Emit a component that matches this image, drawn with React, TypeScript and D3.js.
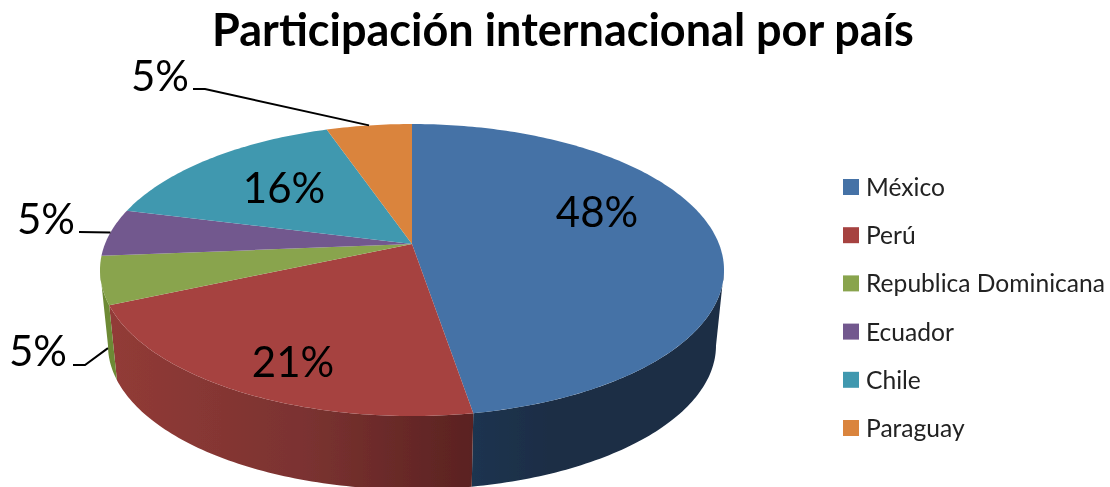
import React from "react";
import * as d3 from "d3";

const paises = ["México", "Perú", "Republica Dominicana", "Ecuador", "Chile", "Paraguay"];
const participantes = [9, 4, 1, 1, 3, 1];
const etiquetas = ["48%", "21%", "5%", "5%", "16%", "5%"];
const coloresTapa = ["#4472a6", "#a64341", "#89a44e", "#72588e", "#4198af", "#da843e"];
const titulo = "Participación internacional por país";

const W = 1110, H = 487;
const CX = 412;
const top = { cy: 270, rx: 312, ry: 146 };
const bottom = { cy: 345.5, rx: 304, ry: 144 };
const C = 26 / 146; // perspective shift of the pie's centre
const FRONT_FROM = Math.PI - Math.acos(C); // right extreme of the rim
const FRONT_TO = Math.PI + Math.acos(C); // left extreme of the rim

function project(theta: number, e: { cy: number; rx: number; ry: number }): [number, number] {
  const u = Math.sin(theta), v = -Math.cos(theta);
  const d = 1 - C * v;
  return [CX + (e.rx * u * Math.sqrt(1 - C * C)) / d, e.cy + (e.ry * (v - C)) / d];
}

const arcs = d3.pie<number>().sort(null).startAngle(0).endAngle(2 * Math.PI)(participantes);
const line = d3.line<[number, number]>();
const color = d3.scaleOrdinal<number, string>().domain(d3.range(6)).range(coloresTapa);
const legendY = d3.scalePoint<string>().domain(paises).range([187, 428]);

function angles(a: number, b: number) {
  const n = Math.max(4, Math.ceil((b - a) * 60));
  return d3.range(n + 1).map((i) => a + ((b - a) * i) / n);
}
const topPath = (a: number, b: number) =>
  line([[CX, top.cy - top.ry * C], ...angles(a, b).map((t) => project(t, top))])! + "Z";
const wallPath = (a0: number, b0: number) => {
  const a = Math.max(a0, FRONT_FROM), b = Math.min(b0, FRONT_TO);
  if (b <= a) return "";
  const t = angles(a, b);
  return line([...t.map((x) => project(x, top)), ...t.slice().reverse().map((x) => project(x, bottom))])! + "Z";
};
const mid = (i: number) => (arcs[i].startAngle + arcs[i].endAngle) / 2;

const insideLabels = [
  { i: 0, x: 597, y: 227 },
  { i: 1, x: 293, y: 377 },
  { i: 4, x: 284, y: 203 },
];
const outside = [
  { i: 5, lx: 160, ly: 91, path: (): [number, number][] => [[193, 89], [205, 89], project(mid(5), top)] },
  { i: 3, lx: 46, ly: 234, path: (): [number, number][] => [[79, 232], project(mid(3), top)] },
  {
    i: 2, lx: 38, ly: 366,
    path: (): [number, number][] => {
      const a = project(mid(2), top), b = project(mid(2), bottom);
      return [[73, 365], [85, 365], [a[0] + (b[0] - a[0]) * 0.9, a[1] + (b[1] - a[1]) * 0.9]];
    },
  },
];
const wallFill = ["url(#wallBlue)", "url(#wallRed)", "#6d8a36", "#54406e", "#2f7488", "#a9652c"];
const font = "Lato, Carlito, sans-serif";

export default function App() {
  return (
    <svg width={W} height={H} viewBox={`0 0 ${W} ${H}`}
      style={{ position: "absolute", left: 0, top: 0, background: "#fff" }}>
      <defs>
        <linearGradient id="wallRed" gradientUnits="userSpaceOnUse" x1={110} x2={473} y1={0} y2={0}>
          <stop offset="0" stopColor="#923b37" />
          <stop offset="0.55" stopColor="#7a3230" />
          <stop offset="1" stopColor="#5a2221" />
        </linearGradient>
        <linearGradient id="wallBlue" gradientUnits="userSpaceOnUse" x1={473} x2={724} y1={0} y2={0}>
          <stop offset="0" stopColor="#1e3450" />
          <stop offset="0.3" stopColor="#1b2d45" />
          <stop offset="1" stopColor="#1b2d45" />
        </linearGradient>
        <filter id="soft" x="-5%" y="-5%" width="110%" height="110%">
          <feGaussianBlur stdDeviation="0.6" />
        </filter>
      </defs>
      <g filter="url(#soft)">
        {arcs.map((a, i) => (
          <path key={i} d={wallPath(a.startAngle, a.endAngle)} fill={wallFill[i]} />
        ))}
        {arcs.map((a, i) => (
          <path key={i} d={topPath(a.startAngle, a.endAngle)} fill={color(i)} />
        ))}
        {outside.map((o) => (
          <path key={o.i} d={line(o.path())!} fill="none" stroke="#000" strokeWidth={2} />
        ))}
        <g fontFamily={font} fill="#000" textAnchor="middle" fontSize={42}>
          {insideLabels.map((l) => (
            <text key={l.i} x={l.x} y={l.y}>{etiquetas[l.i]}</text>
          ))}
          {outside.map((o) => (
            <text key={o.i} x={o.lx} y={o.ly}>{etiquetas[o.i]}</text>
          ))}
        </g>
        <text x={563} y={46} textAnchor="middle" fontFamily={font} fontWeight={700} fontSize={45} fill="#000">
          {titulo}
        </text>
        {paises.map((p, i) => (
          <g key={p}>
            <rect x={843} y={legendY(p)! - 8} width={16} height={16} fill={color(i)} />
            <text x={866} y={legendY(p)! + 9} fontFamily={font} fontSize={24.6} fill="#222">{p}</text>
          </g>
        ))}
      </g>
    </svg>
  );
}
